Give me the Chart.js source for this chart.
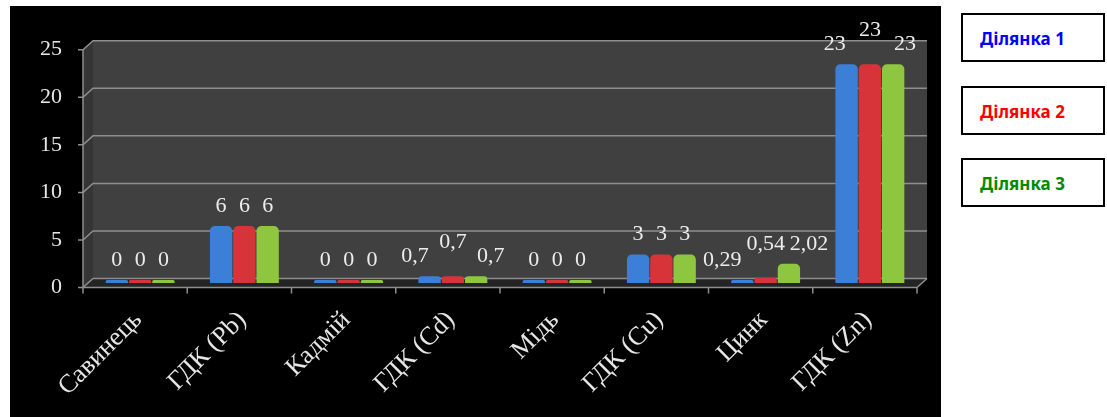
<!DOCTYPE html>
<html lang="uk">
<head>
<meta charset="UTF-8">
<title>Вміст важких металів</title>
<script src="https://cdn.jsdelivr.net/npm/chart.js"></script>
<style>
  body {
    margin: 0;
    background: #fff;
    width: 1107px;
    height: 417px;
    position: relative;
    overflow: hidden;
  }

  .panel {
    position: absolute;
    left: 10px;
    top: 6px;
    width: 931px;
    height: 411px;
    background: #000;
  }

  .legend-box {
    position: absolute;
    left: 961px;
    width: 144px;
    height: 49px;
    box-sizing: border-box;
    border: 2px solid #000;
    padding-left: 17px;
    line-height: 47px;
    font-family: 'Noto Sans', sans-serif;
    font-weight: bold;
    font-size: 17px;
  }
</style>
</head>
<body>

<div class="panel"><canvas id="chart" width="931" height="411"></canvas></div>
<div id="legend"></div>

<script>
  const categories = ['Савинець', 'ГДК (Pb)', 'Кадмій', 'ГДК (Cd)', 'Мідь', 'ГДК (Cu)', 'Цинк', 'ГДК (Zn)'];
  const site1 = [0, 6, 0, 0.7, 0, 3, 0.29, 23];
  const site2 = [0, 6, 0, 0.7, 0, 3, 0.54, 23];
  const site3 = [0, 6, 0, 0.7, 0, 3, 2.02, 23];
  const siteNames = ['Ділянка 1', 'Ділянка 2', 'Ділянка 3'];

  const barColors = ['#3b7fd6', '#d63439', '#8fc63f'];
  const legendColors = ['#0000ff', '#ff0000', '#008a00'];

  // legend boxes on the right
  const legendTops = [13, 86, 158];
  const legend = document.getElementById('legend');
  siteNames.forEach((name, i) => {
    const box = document.createElement('div');
    box.className = 'legend-box';
    box.style.top = legendTops[i] + 'px';
    box.style.color = legendColors[i];
    box.textContent = name;
    legend.appendChild(box);
  });

  const fmt = v => String(v).replace('.', ',');

  // half of the 3D depth: front edge is (-DX, +DY), back wall is (+DX, -DY)
  const DX = 5, DY = 4.5;

  const frame3d = {
    id: 'frame3d',
    beforeDatasetsDraw(chart) {
      const { ctx, chartArea: a, scales: { x, y } } = chart;
      const L = a.left, R = a.right;
      const y0 = y.getPixelForValue(0);
      const yTop = y.getPixelForValue(y.max);

      const poly = (pts, fill) => {
        ctx.beginPath();
        pts.forEach((p, i) => i ? ctx.lineTo(p[0], p[1]) : ctx.moveTo(p[0], p[1]));
        ctx.closePath();
        ctx.fillStyle = fill;
        ctx.fill();
      };

      ctx.save();
      // back wall, side wall, floor
      poly([[L + DX, yTop - DY], [R + DX, yTop - DY], [R + DX, y0 - DY], [L + DX, y0 - DY]], '#404040');
      poly([[L - DX, yTop + DY], [L + DX, yTop - DY], [L + DX, y0 - DY], [L - DX, y0 + DY]], '#353535');
      poly([[L - DX, y0 + DY], [L + DX, y0 - DY], [R + DX, y0 - DY], [R - DX, y0 + DY]], '#242424');

      // grid lines on the back wall
      ctx.strokeStyle = '#8e8e8e';
      ctx.lineWidth = 1.5;
      y.ticks.forEach(t => {
        const py = y.getPixelForValue(t.value);
        ctx.beginPath();
        ctx.moveTo(L - DX - 5, py + DY);
        ctx.lineTo(L - DX, py + DY);
        ctx.lineTo(L + DX, py - DY);
        ctx.lineTo(R + DX, py - DY);
        ctx.stroke();
      });

      // front axes
      ctx.beginPath();
      ctx.moveTo(L - DX, yTop + DY);
      ctx.lineTo(L - DX, y0 + DY);
      ctx.lineTo(R - DX, y0 + DY);
      ctx.lineTo(R + DX, y0 - DY);
      ctx.stroke();

      const step = (R - L) / categories.length;
      for (let k = 0; k <= categories.length; k++) {
        const px = L - DX + k * step;
        ctx.beginPath();
        ctx.moveTo(px, y0 + DY);
        ctx.lineTo(px, y0 + DY + 6);
        ctx.stroke();
      }
      ctx.restore();
    }
  };

  const valueLabels = {
    id: 'valueLabels',
    afterDatasetsDraw(chart) {
      const ctx = chart.ctx;
      const n = chart.data.datasets.length;
      const mid = (n - 1) / 2;
      ctx.save();
      ctx.font = '22px "Liberation Serif"';
      ctx.fillStyle = '#ececec';
      ctx.textAlign = 'center';
      ctx.textBaseline = 'middle';
      chart.data.labels.forEach((_, i) => {
        const texts = chart.data.datasets.map(ds => fmt(ds.data[i]));
        const widths = texts.map(t => ctx.measureText(t).width);
        const bars = chart.data.datasets.map((ds, d) => chart.getDatasetMeta(d).data[i]);
        const crowded = widths.some((w, d) => w > bars[d].width - 6);
        bars.forEach((bar, d) => {
          let px = bar.x, py = bar.y - 20;
          if (crowded) {
            px += (d - mid) * ((widths[d] - bar.width) / 2 + 12);
            if (d === mid) py -= 14;
          }
          ctx.fillText(texts[d], px, py);
        });
      });
      ctx.restore();
    }
  };

  new Chart(document.getElementById('chart'), {
    type: 'bar',
    data: {
      labels: categories,
      datasets: [
        { label: siteNames[0], data: site1, backgroundColor: barColors[0] },
        { label: siteNames[1], data: site2, backgroundColor: barColors[1] },
        { label: siteNames[2], data: site3, backgroundColor: barColors[2] }
      ]
    },
    options: {
      responsive: false,
      animation: false,
      layout: { padding: { top: 34, right: 19, bottom: 0, left: 0 } },
      datasets: {
        bar: {
          categoryPercentage: 0.67,
          barPercentage: 0.96,
          minBarLength: 3,
          borderRadius: { topLeft: 5, topRight: 5, bottomLeft: 0, bottomRight: 0 },
          borderSkipped: 'start'
        }
      },
      plugins: {
        legend: { display: false },
        tooltip: { enabled: false }
      },
      scales: {
        x: {
          grid: { display: false, drawTicks: false },
          border: { display: false },
          ticks: {
            color: '#e6e6e6',
            font: { family: 'Liberation Serif', size: 26 },
            minRotation: 45,
            maxRotation: 45,
            autoSkip: false,
            padding: 22,
            labelOffset: -2
          },
          afterFit(s) { s.height = 134; }
        },
        y: {
          min: 0,
          max: 25,
          grid: { display: false, drawTicks: false },
          border: { display: false },
          ticks: {
            stepSize: 5,
            color: '#e6e6e6',
            font: { family: 'Liberation Serif', size: 22 },
            padding: 26,
            labelOffset: 4.5
          },
          afterFit(s) { s.width = 78; }
        }
      }
    },
    plugins: [frame3d, valueLabels]
  });
</script>

</body>
</html>
